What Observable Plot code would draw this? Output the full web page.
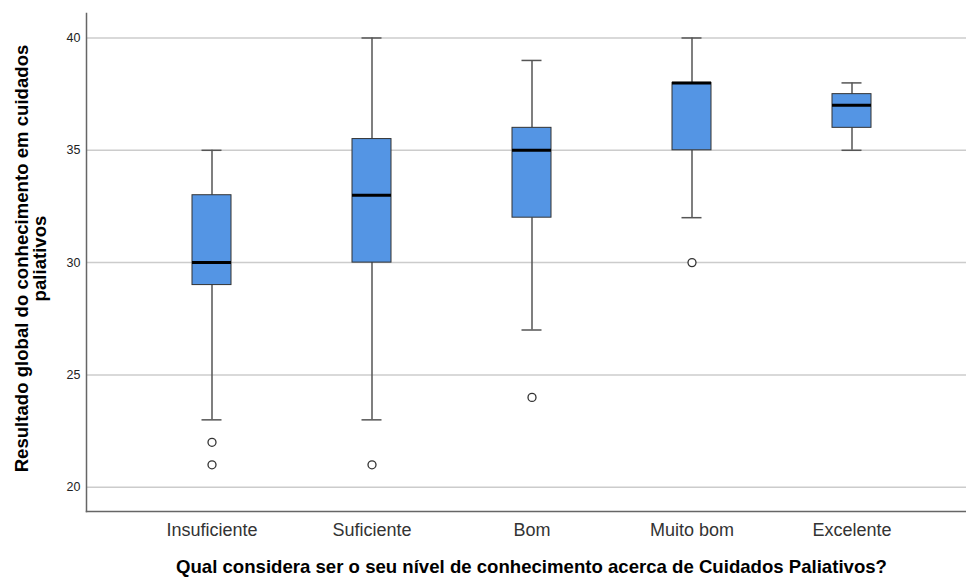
<!DOCTYPE html>
<html>
<head>
<meta charset="utf-8">
<script src="https://cdn.jsdelivr.net/npm/d3@7"></script>
<script src="https://cdn.jsdelivr.net/npm/@observablehq/plot@0.6"></script>
<style>
  html, body { margin: 0; padding: 0; background: #fff; }
  #chart svg { display: block; }
</style>
</head>
<body>
<div id="chart"></div>
<script>
const categories = ["Insuficiente", "Suficiente", "Bom", "Muito bom", "Excelente"];
const whiskerLow  = [23, 23, 27, 32, 35];
const q1          = [29, 30, 32, 35, 36];
const median      = [30, 33, 35, 38, 37];
const q3          = [33, 35.5, 36, 38, 37.5];
const whiskerHigh = [35, 40, 39, 40, 38];
const outlierCategories = ["Insuficiente", "Insuficiente", "Suficiente", "Bom", "Muito bom"];
const outlierValues     = [22, 21, 21, 24, 30];
const yTicks = [20, 25, 30, 35, 40];
const xTitle = "Qual considera ser o seu nível de conhecimento acerca de Cuidados Paliativos?";
const yTitle = "Resultado global do conhecimento em cuidados\npaliativos";

const stats = categories.map((c, i) => ({
  cat: c, low: whiskerLow[i], q1: q1[i], med: median[i], q3: q3[i], high: whiskerHigh[i]
}));
const outliers = outlierCategories.map((c, i) => ({cat: c, v: outlierValues[i]}));

const chart = Plot.plot({
  width: 966,
  height: 577,
  marginLeft: 86,
  marginRight: 0,
  marginTop: 13,
  marginBottom: 66,
  style: {fontFamily: "'Liberation Sans', Arial, sans-serif", background: "#fff"},
  x: {type: "band", domain: categories, range: [131.45, 931.95], paddingInner: 0.756, paddingOuter: 0.378, axis: null},
  y: {domain: [18.92, 41.09], axis: null},
  marks: [
    Plot.ruleY(yTicks, {stroke: "#cccccc", strokeWidth: 1.5}),
    Plot.frame({anchor: "left", stroke: "#666", strokeWidth: 1.5}),
    Plot.frame({anchor: "bottom", stroke: "#666", strokeWidth: 1.5}),
    Plot.ruleX(stats, {x: "cat", y1: "low", y2: "q1", stroke: "#555", strokeWidth: 1.5}),
    Plot.ruleX(stats, {x: "cat", y1: "q3", y2: "high", stroke: "#555", strokeWidth: 1.5}),
    Plot.tickY(stats, {x: "cat", y: "low", stroke: "#555", strokeWidth: 1.5, insetLeft: 9.5, insetRight: 9.5}),
    Plot.tickY(stats, {x: "cat", y: "high", stroke: "#555", strokeWidth: 1.5, insetLeft: 9.5, insetRight: 9.5}),
    Plot.barY(stats, {x: "cat", y1: "q1", y2: "q3", fill: "#5495e4", stroke: "#333", strokeWidth: 1}),
    Plot.tickY(stats, {x: "cat", y: "med", stroke: "#000", strokeWidth: 3}),
    Plot.dot(outliers, {x: "cat", y: "v", r: 4, fill: "#fff", stroke: "#333", strokeWidth: 1.3}),
    Plot.axisY({ticks: yTicks, tickSize: 0, tickPadding: 6, fontSize: 12.5, fill: "#222", label: null}),
    Plot.axisX({tickSize: 0, tickPadding: 12, fontSize: 18, fill: "#333", label: null}),
    Plot.text([xTitle], {frameAnchor: "bottom", lineAnchor: "middle", dx: 5, dy: 56, fontSize: 18.6, fontWeight: "bold", fill: "#000"}),
    Plot.text([yTitle], {frameAnchor: "left", textAnchor: "middle", rotate: -90, dx: -55.5, dy: -4, fontSize: 18.6, fontWeight: "bold", fill: "#000", lineHeight: 1.0})
  ]
});
document.getElementById("chart").appendChild(chart);
</script>
</body>
</html>
